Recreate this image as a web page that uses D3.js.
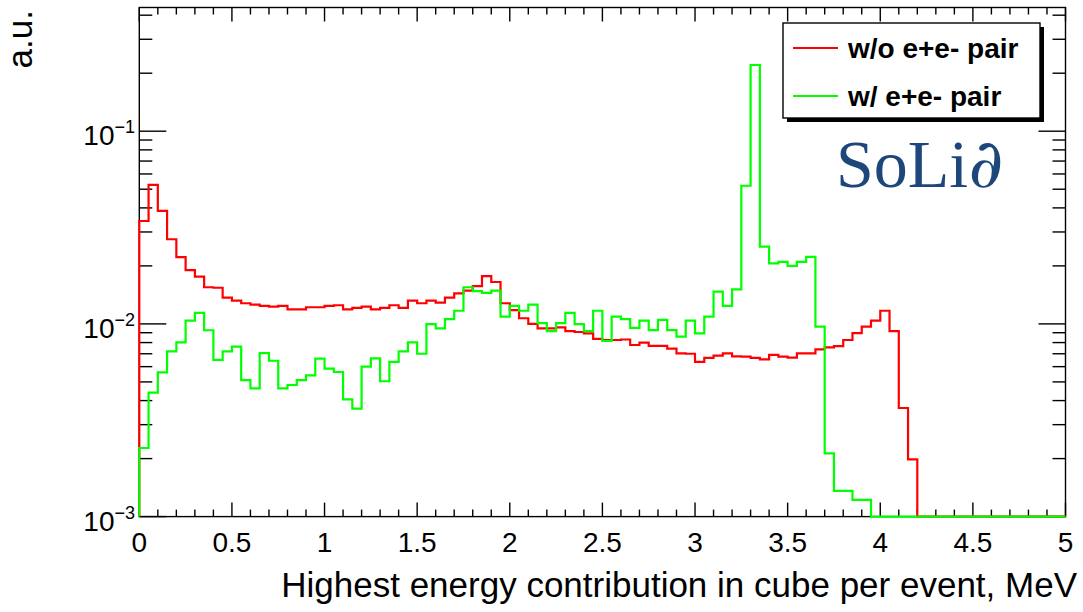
<!DOCTYPE html>
<html><head><meta charset="utf-8">
<script src="https://cdn.jsdelivr.net/npm/d3@7"></script>
<style>html,body{margin:0;padding:0;background:#fff;} svg{display:block;}</style>
</head><body>
<svg id="c" width="1083" height="612"></svg>
<script>
// ---- data (100 bins, 0-5 MeV) ----
const redValues = [
  0.0342, 0.0526, 0.0386, 0.0275, 0.0222, 0.0190, 0.0176, 0.0155, 0.0154, 0.0137,
  0.0132, 0.0128, 0.0126, 0.0124, 0.0123, 0.0124, 0.0119, 0.0119, 0.0122, 0.0122,
  0.0124, 0.0125, 0.0119, 0.0121, 0.0123, 0.0119, 0.0121, 0.0125, 0.0121, 0.0132,
  0.0128, 0.0132, 0.0129, 0.0137, 0.0144, 0.0149, 0.0157, 0.0177, 0.0165, 0.0128,
  0.0118, 0.0107, 0.0100, 0.00949, 0.00947, 0.00960, 0.00918, 0.00908, 0.00893, 0.00837,
  0.00825, 0.00825, 0.00830, 0.00777, 0.00799, 0.00770, 0.00770, 0.00745, 0.00703, 0.00700,
  0.00636, 0.00667, 0.00685, 0.00703, 0.00678, 0.00676, 0.00666, 0.00655, 0.00690, 0.00676,
  0.00668, 0.00703, 0.00703, 0.00738, 0.00755, 0.00767, 0.00825, 0.00896, 0.00967, 0.0104,
  0.0117, 0.00918, 0.00366, 0.00198, 0, 0, 0, 0, 0, 0,
  0, 0, 0, 0, 0, 0, 0, 0, 0, 0
];
const greenValues = [
  0.00227, 0.00440, 0.00561, 0.00721, 0.00802, 0.0104, 0.0114, 0.00927, 0.00650, 0.00721,
  0.00762, 0.00511, 0.00463, 0.00706, 0.00644, 0.00463, 0.00482, 0.00511, 0.00541, 0.00660,
  0.00586, 0.00563, 0.00406, 0.00363, 0.00600, 0.00663, 0.00504, 0.00636, 0.00721, 0.00802,
  0.00700, 0.00998, 0.00949, 0.0106, 0.0117, 0.0155, 0.0148, 0.0145, 0.0149, 0.0109,
  0.0124, 0.0117, 0.0126, 0.0101, 0.00918, 0.0101, 0.0114, 0.00998, 0.00918, 0.0117,
  0.00815, 0.0109, 0.0106, 0.00953, 0.0104, 0.00929, 0.0105, 0.00929, 0.00859, 0.0104,
  0.00893, 0.0109, 0.0147, 0.0124, 0.0151, 0.0521, 0.2206, 0.0252, 0.0206, 0.0210,
  0.0200, 0.0210, 0.0223, 0.00967, 0.00213, 0.00136, 0.00136, 0.00122, 0.00122, 0,
  0, 0, 0, 0, 0, 0, 0, 0, 0, 0,
  0, 0, 0, 0, 0, 0, 0, 0, 0, 0
];
const xTickValues = [0, 0.5, 1, 1.5, 2, 2.5, 3, 3.5, 4, 4.5, 5];
const xTickLabels = ["0", "0.5", "1", "1.5", "2", "2.5", "3", "3.5", "4", "4.5", "5"];
const yTickExponents = [-3, -2, -1];
const legendLabels = ["w/o e+e- pair", "w/ e+e- pair"];
const seriesColors = ["#ff0000", "#00ff00"];
const xTitle = "Highest energy contribution in cube per event, MeV";
const yTitle = "a.u.";
const logoMain = "SoLi";
const logoLast = "\u2202";

// ---- layout ----
const xMin = 0, xMax = 5, yMin = 1e-3, yMax = 0.4385;
const P = {left: 139.3, right: 1065.5, top: 7.5, bottom: 516.6};
const FONT = "'Liberation Sans', Arial, Helvetica, sans-serif";

const svg = d3.select("#c");
const x = d3.scaleLinear().domain([xMin, xMax]).range([P.left, P.right]);
const y = d3.scaleLog().domain([yMin, yMax]).range([P.bottom, P.top]);

svg.append("rect").attr("width", 1083).attr("height", 612).attr("fill", "#fff");

const axG = svg.append("g").attr("stroke", "#000").attr("stroke-width", 1.4);
axG.append("rect").attr("x", P.left).attr("y", P.top)
  .attr("width", P.right - P.left).attr("height", P.bottom - P.top).attr("fill", "none");

// x ticks (bottom & top, inward)
const xMinor = d3.range(0, 51).map(i => i / 10);
xMinor.forEach(v => {
  const major = Math.abs(v * 2 - Math.round(v * 2)) < 1e-9;
  const len = major ? 14 : 7;
  const px = x(v);
  axG.append("line").attr("x1", px).attr("x2", px).attr("y1", P.bottom).attr("y2", P.bottom - len);
  axG.append("line").attr("x1", px).attr("x2", px).attr("y1", P.top).attr("y2", P.top + len);
});
// y ticks (left & right, inward)
const yTicks = [];
for (let e = -3; e <= 0; e++) for (let m = 1; m <= 9; m++) {
  const v = m * Math.pow(10, e);
  if (v >= yMin * 0.999 && v <= yMax) yTicks.push({v, major: m === 1});
}
yTicks.forEach(t => {
  const py = y(t.v), len = t.major ? 27 : 13;
  axG.append("line").attr("x1", P.left).attr("x2", P.left + len).attr("y1", py).attr("y2", py);
  axG.append("line").attr("x1", P.right).attr("x2", P.right - len).attr("y1", py).attr("y2", py);
});

// x tick labels
svg.append("g").selectAll("text").data(xTickValues).join("text")
  .attr("x", d => x(d)).attr("y", 552)
  .attr("text-anchor", "middle").attr("font-family", FONT).attr("font-size", 28)
  .text((d, i) => xTickLabels[i]);

// y tick labels 10^e
yTickExponents.forEach(e => {
  const py = y(Math.pow(10, e));
  const t = svg.append("text").attr("x", 135).attr("y", py + 14)
    .attr("text-anchor", "end").attr("font-family", FONT).attr("font-size", 28);
  t.append("tspan").text("10");
  t.append("tspan").attr("font-size", 18).attr("dy", -12).text("\u2212" + Math.abs(e));
});

// titles
svg.append("text").attr("x", 1077).attr("y", 597).attr("text-anchor", "end")
  .attr("font-family", FONT).attr("font-size", 35).text(xTitle);
svg.append("text").attr("transform", "translate(32,10) rotate(-90)")
  .attr("text-anchor", "end").attr("font-family", FONT).attr("font-size", 35).text(yTitle);

// histograms
svg.append("defs").append("clipPath").attr("id", "clip").append("rect")
  .attr("x", P.left - 2).attr("y", P.top).attr("width", P.right - P.left + 4).attr("height", P.bottom - P.top + 2);
function histPath(vals) {
  const n = vals.length, w = (xMax - xMin) / n;
  const yv = v => v > 0 ? Math.min(Math.max(y(v), P.top), P.bottom) : P.bottom;
  const p = d3.path();
  p.moveTo(x(xMin), P.bottom);
  vals.forEach((v, i) => { p.lineTo(x(xMin + i * w), yv(v)); p.lineTo(x(xMin + (i + 1) * w), yv(v)); });
  p.lineTo(x(xMax), P.bottom);
  return p.toString();
}
const hg = svg.append("g").attr("clip-path", "url(#clip)");
[redValues, greenValues].forEach((vals, i) => {
  hg.append("path").attr("d", histPath(vals)).attr("fill", "none")
    .attr("stroke", seriesColors[i]).attr("stroke-width", 2.2).attr("stroke-linejoin", "miter");
});

// legend
const L = {x: 783, y: 23, w: 257, h: 95};
svg.append("rect").attr("x", L.x + 4).attr("y", L.y + 4).attr("width", L.w).attr("height", L.h).attr("fill", "#000");
svg.append("rect").attr("x", L.x).attr("y", L.y).attr("width", L.w).attr("height", L.h)
  .attr("fill", "#fff").attr("stroke", "#000").attr("stroke-width", 1.4);
legendLabels.forEach((lab, i) => {
  const ly = 48 + i * 48;
  svg.append("line").attr("x1", 793).attr("x2", 838).attr("y1", ly).attr("y2", ly)
    .attr("stroke", seriesColors[i]).attr("stroke-width", 2.2);
  svg.append("text").attr("x", 848).attr("y", ly + 10).attr("font-family", FONT)
    .attr("font-weight", "bold").attr("font-size", 28).text(lab);
});

// logo
const logo = svg.append("text").attr("x", 836).attr("y", 187)
  .attr("font-family", "'Liberation Serif', 'Times New Roman', serif")
  .attr("font-size", 68).attr("fill", "#1d477a");
logo.append("tspan").text(logoMain);
logo.append("tspan").attr("font-family", "'DejaVu Serif', serif").attr("font-size", 68).text(logoLast);
</script>
</body></html>
